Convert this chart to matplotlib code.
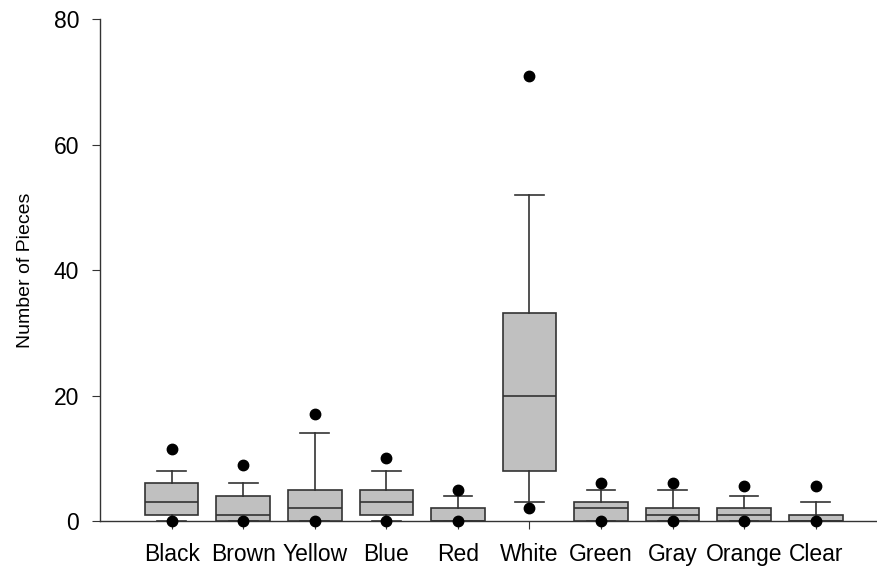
import matplotlib.pyplot as plt

plt.rcParams["font.family"] = ["Liberation Sans", "DejaVu Sans"]

categories = ["Black", "Brown", "Yellow", "Blue", "Red",
              "White", "Green", "Gray", "Orange", "Clear"]
q1 = [1, 0, 0, 1, 0, 8, 0, 0, 0, 0]
median = [3, 1, 2, 3, 0, 20, 2, 1, 1, 0]
q3 = [6, 4, 5, 5, 2, 33.2, 3, 2, 2, 1]
whis_lo = [0, 0, 0, 0, 0, 3, 0, 0, 0, 0]
whis_hi = [8, 6, 14, 8, 4, 52, 5, 5, 4, 3]
out_hi = [11.5, 9, 17, 10, 5, 71, 6, 6, 5.5, 5.5]
out_lo = [0, 0, 0, 0, 0, 2, 0, 0, 0, 0]

stats = []
for i, name in enumerate(categories):
    stats.append({"label": name, "q1": q1[i], "med": median[i], "q3": q3[i],
                  "whislo": whis_lo[i], "whishi": whis_hi[i],
                  "fliers": [out_lo[i], out_hi[i]]})

fig = plt.figure(figsize=(8.78, 5.71), dpi=100)
ax = fig.add_axes([0.114, 0.0876, 0.886, 0.879])

edge = "#333333"
bp = ax.bxp(stats, positions=range(1, 11), widths=0.75, patch_artist=True,
            boxprops=dict(facecolor="#c0c0c0", edgecolor=edge, linewidth=1.2),
            medianprops=dict(color=edge, linewidth=1.2),
            whiskerprops=dict(color=edge, linewidth=1.2),
            capprops=dict(color=edge, linewidth=1.2),
            capwidths=0.4,
            flierprops=dict(marker="o", markerfacecolor="black",
                            markeredgecolor="black", markersize=7.5))
for f in bp["fliers"]:
    f.set_clip_on(False)
    f.set_zorder(3)

ax.set_xlim(0, 10.87)
ax.set_ylim(0, 80)
ax.set_yticks([0, 20, 40, 60, 80])
ax.spines["top"].set_visible(False)
ax.spines["right"].set_visible(False)
for s in ["left", "bottom"]:
    ax.spines[s].set_color(edge)
    ax.spines[s].set_linewidth(1.0)
    ax.spines[s].set_zorder(0.5)
ax.tick_params(axis="both", direction="out", length=6, color=edge,
               labelsize=16.5)
ax.tick_params(axis="x", pad=10)
ax.tick_params(axis="y", pad=9)
ax.set_ylabel("Number of Pieces", fontsize=14, labelpad=14)

fig.savefig("out.png", dpi=100)
